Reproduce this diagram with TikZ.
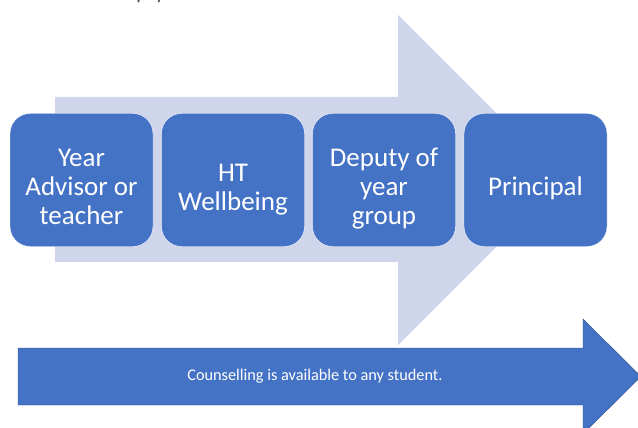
\documentclass[tikz,border=0pt]{standalone}
\usepackage{fontspec}
\setmainfont{Carlito}
\usepackage{tikz}

\definecolor{stepblue}{HTML}{4472C4}
\definecolor{paleblue}{HTML}{CFD5EA}
\definecolor{edgeblue}{HTML}{2F528F}

% text of a step, set a little low in its box
\newcommand{\steplines}[1]{\raisebox{-10pt}[\height][\depth]{\begin{tabular}{@{}c@{}}#1\end{tabular}}}

\begin{document}
\begin{tikzpicture}[x=1pt, y=-1pt,
  stepbox/.style={rectangle, rounded corners=20pt, draw=white, thin, fill=stepblue, text=white,
    minimum width=143pt, minimum height=133pt,
    font=\fontsize{27}{29}\selectfont, inner sep=0pt}]

\useasboundingbox (0,0) rectangle (638,428);
\clip (0,0) rectangle (638,428);

% Title (cut off)
\node[anchor=base west, inner sep=0pt, text=black!75, font=\fontsize{14}{16}\selectfont\bfseries] (title) at (10,1) {WELLBEING FLOW Enquiry Flow Chart};

% Background arrow
\fill[paleblue] (55,97) -- (398,97) -- (398,15) -- (563,180) -- (398,345) -- (398,262) -- (55,262) -- cycle;

% Steps
\node[stepbox] (advisor) at (81.5,180) {\steplines{Year\\Advisor or\\teacher}};
\node[stepbox] (wellbeing) at (233,180) {\steplines{HT\\Wellbeing}};
\node[stepbox] (deputy) at (384,180) {\steplines{Deputy of\\year\\group}};
\node[stepbox] (principal) at (535.5,180) {\steplines{Principal}};

% Counselling arrow
\filldraw[fill=stepblue, draw=edgeblue, thin] (18,348) -- (583,348) -- (583,319) -- (641,376.5) -- (583,434) -- (583,405) -- (18,405) -- cycle;
\node[text=white, font=\fontsize{16.3}{19}\selectfont] (counselling) at (315,376.5) {Counselling is available to any student.};

\end{tikzpicture}
\end{document}
